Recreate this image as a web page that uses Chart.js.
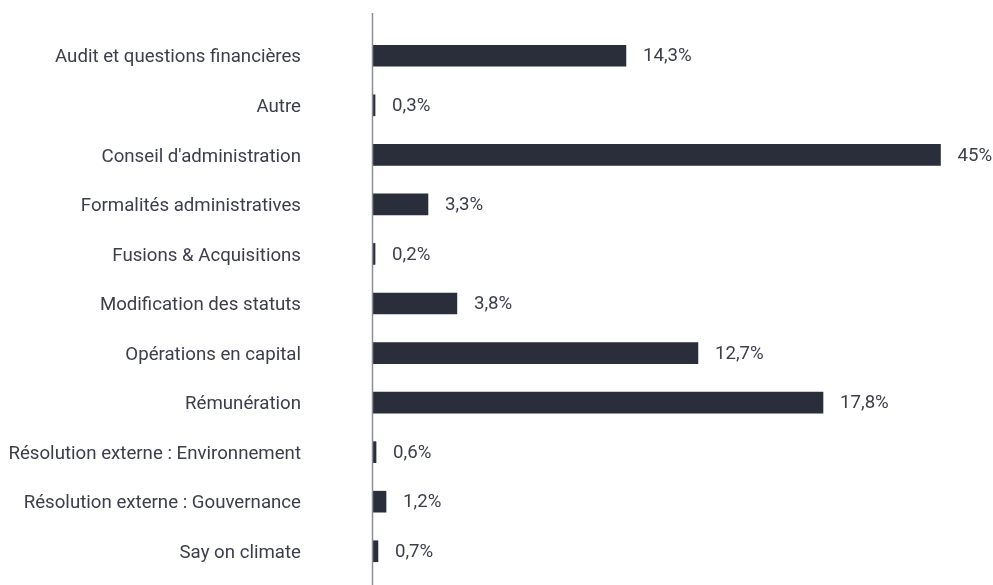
<!DOCTYPE html>
<html lang="fr">
<head>
<meta charset="utf-8">
<title>Répartition des résolutions</title>
<script src="https://cdn.jsdelivr.net/npm/chart.js@4/dist/chart.umd.min.js"></script>
<style>
  html, body { margin: 0; padding: 0; background: #ffffff; }
  #wrap { width: 993px; height: 585px; }
</style>
</head>
<body>
<div id="wrap"><canvas id="chart" width="993" height="585"></canvas></div>
<script>
// ── Data ──────────────────────────────────────────────────────
const categories = [
  'Audit et questions financières',
  'Autre',
  "Conseil d'administration",
  'Formalités administratives',
  'Fusions & Acquisitions',
  'Modification des statuts',
  'Opérations en capital',
  'Rémunération',
  'Résolution externe : Environnement',
  'Résolution externe : Gouvernance',
  'Say on climate',
];

// bar lengths as drawn (the printed labels are not proportional to them)
const barLengths = [20.1, 0.24, 45, 4.43, 0.24, 6.72, 25.8, 35.7, 0.32, 1.11, 0.47];

const valueLabels = ['14,3%', '0,3%', '45%', '3,3%', '0,2%', '3,8%', '12,7%', '17,8%', '0,6%', '1,2%', '0,7%'];

const BAR_COLOR  = '#2a2d3a';
const TEXT_COLOR = '#3b3e4a';
const AXIS_COLOR = '#8c8e98';
const FONT       = 'Roboto, "Noto Sans", sans-serif';
const FONT_SIZE  = 18.67;

// ── Plugins ───────────────────────────────────────────────────

/** Vertical baseline at x = 0, running past the plot area. */
const baselinePlugin = {
  id: 'baseline',
  afterDatasetsDraw(chart) {
    const { ctx, scales: { x } } = chart;
    const px = Math.round(x.getPixelForValue(0)) + 0.5;
    ctx.save();
    ctx.strokeStyle = AXIS_COLOR;
    ctx.lineWidth = 1.5;
    ctx.beginPath();
    ctx.moveTo(px, 13);
    ctx.lineTo(px, chart.height);
    ctx.stroke();
    ctx.restore();
  },
};

/** Value text after each bar end. */
const valueLabelPlugin = {
  id: 'valueLabels',
  afterDatasetsDraw(chart) {
    const { ctx } = chart;
    const meta = chart.getDatasetMeta(0);
    ctx.save();
    ctx.font = `${FONT_SIZE}px ${FONT}`;
    ctx.fillStyle = TEXT_COLOR;
    ctx.textAlign = 'left';
    ctx.textBaseline = 'middle';
    meta.data.forEach((bar, i) => {
      ctx.fillText(valueLabels[i], bar.x + 17, bar.y + 1);
    });
    ctx.restore();
  },
};

// ── Chart ─────────────────────────────────────────────────────
new Chart(document.getElementById('chart'), {
  type: 'bar',
  data: {
    labels: categories,
    datasets: [{
      data: barLengths,
      backgroundColor: BAR_COLOR,
      barThickness: 21,
      borderWidth: 0,
    }],
  },
  options: {
    indexAxis: 'y',
    responsive: false,
    animation: false,
    layout: { padding: { top: 31, bottom: 9, left: 0, right: 2 } },
    plugins: {
      legend: { display: false },
      tooltip: { enabled: false },
    },
    scales: {
      x: {
        display: false,
        min: 0,
        max: 49,
      },
      y: {
        // fixed label column; drop the tick padding Chart.js adds above/below
        afterFit(scale) {
          scale.width = 372;
          scale.paddingTop = 0;
          scale.paddingBottom = 0;
        },
        grid: { display: false, drawTicks: false },
        border: { display: false },
        ticks: {
          color: TEXT_COLOR,
          font: { family: FONT, size: FONT_SIZE },
          padding: 71,
          labelOffset: 2,
        },
      },
    },
  },
  plugins: [baselinePlugin, valueLabelPlugin],
});
</script>
</body>
</html>
